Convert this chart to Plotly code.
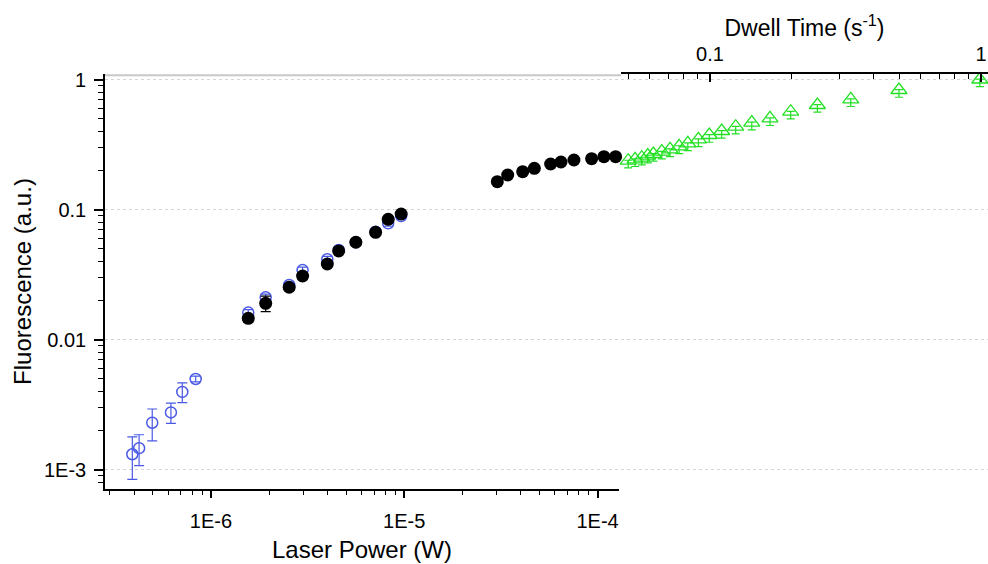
import plotly.graph_objects as go

# ---------------- data ----------------
# Blue open circles: Laser Power (W) vs Fluorescence (a.u.)
blue_power = [3.92e-7, 4.25e-7, 4.97e-7, 6.21e-7, 7.11e-7, 8.34e-7,
              1.56e-6, 1.92e-6, 2.54e-6, 2.98e-6, 4.00e-6, 4.58e-6,
              5.62e-6, 7.11e-6, 8.26e-6, 9.64e-6]
blue_fluor = [1.31e-3, 1.46e-3, 2.29e-3, 2.75e-3, 3.95e-3, 4.97e-3,
              0.0161, 0.0211, 0.0263, 0.0342, 0.0414, 0.0488,
              0.0560, 0.0675, 0.0783, 0.0891]
blue_err = [4.7e-4, 3.9e-4, 6.3e-4, 4.9e-4, 6.8e-4, 2.5e-4,
            0.0009, 0.0012, 0.0014, 0.0018, 0.0022, 0.0025,
            0.0030, 0.0035, 0.0040, 0.0045]

# Black filled circles: Laser Power (W) vs Fluorescence (a.u.)
black_power = [1.56e-6, 1.92e-6, 2.54e-6, 2.98e-6, 4.00e-6, 4.58e-6,
               5.62e-6, 7.11e-6, 8.26e-6, 9.64e-6,
               3.03e-5, 3.43e-5, 4.10e-5, 4.71e-5, 5.72e-5, 6.47e-5,
               7.55e-5, 9.32e-5, 1.079e-4, 1.24e-4]
black_fluor = [0.01456, 0.01897, 0.02523, 0.03078, 0.0381, 0.0480,
               0.0560, 0.0668, 0.0841, 0.0923,
               0.1637, 0.1842, 0.1953, 0.2074, 0.2239, 0.2319,
               0.2403, 0.2459, 0.2548, 0.2548]
black_err = [0.0010, 0.0026, 0.0015, 0.0018, 0.0022, 0.0025,
             0.0028, 0.0033, 0.0040, 0.0045,
             0.006, 0.006, 0.006, 0.006, 0.007, 0.007,
             0.007, 0.007, 0.008, 0.008]

# Green open triangles: Dwell Time (s^-1) vs Fluorescence (a.u.)
dwell_time = [0.0499, 0.0529, 0.0560, 0.0589, 0.0618, 0.0664, 0.0712,
              0.0769, 0.0828, 0.0906, 0.0994, 0.1104, 0.1244, 0.1426,
              0.1665, 0.1985, 0.249, 0.3306, 0.498, 0.99]
green_fluor = [0.2373, 0.2432, 0.2503, 0.2594, 0.2673, 0.2784, 0.2904,
               0.3063, 0.3230, 0.3467, 0.3742, 0.4016, 0.4334, 0.4653,
               0.5029, 0.5653, 0.6366, 0.7040, 0.8302, 1.0]
green_err_hi = [0.002, 0.002, 0.002, 0.002, 0.002, 0.002, 0.002,
                0.003, 0.003, 0.003, 0.003, 0.003, 0.003, 0.004,
                0.004, 0.004, 0.005, 0.005, 0.006, 0.007]
green_err_lo = [0.028, 0.029, 0.030, 0.031, 0.032, 0.033, 0.035,
                0.037, 0.039, 0.042, 0.045, 0.048, 0.052, 0.056,
                0.060, 0.068, 0.076, 0.084, 0.100, 0.120]

# tick labels
power_ticks = [1e-6, 1e-5, 1e-4]
power_labels = ["1E-6", "1E-5", "1E-4"]
dwell_ticks = [0.1, 1]
dwell_labels = ["0.1", "1"]
fluor_ticks = [1e-3, 1e-2, 1e-1, 1]
fluor_labels = ["1E-3", "0.01", "0.1", "1"]

# minor tick positions (2..9 within each decade)
def minor_vals(decades):
    return [m * d for d in decades for m in range(2, 10)]

power_minor = [v for v in minor_vals([1e-7, 1e-6, 1e-5, 1e-4]) if 2.8e-7 < v < 1.2e-4]
dwell_minor = [v for v in minor_vals([0.01, 0.1]) if 0.047 < v < 1.06]
fluor_minor = [v for v in minor_vals([1e-4, 1e-3, 1e-2, 1e-1]) if 7.0e-4 < v < 1.1]

BLUE = "#4a5ae6"
GREEN = "#22e022"
FONT = "Liberation Sans, Arial, Helvetica, sans-serif"

fig = go.Figure()

fig.add_trace(go.Scatter(
    x=blue_power, y=blue_fluor, mode="markers", xaxis="x", yaxis="y",
    marker=dict(symbol="circle-open", size=11, color=BLUE, line=dict(width=1.5, color=BLUE)),
    error_y=dict(type="data", array=blue_err, color=BLUE, thickness=1.2, width=5),
    cliponaxis=False, showlegend=False, name="Fluorescence (power, set 1)"))

fig.add_trace(go.Scatter(
    x=black_power, y=black_fluor, mode="markers", xaxis="x", yaxis="y",
    marker=dict(symbol="circle", size=13, color="black", line=dict(width=0)),
    error_y=dict(type="data", array=black_err, color="black", thickness=1.2, width=5),
    cliponaxis=False, showlegend=False, name="Fluorescence (power, set 2)"))

fig.add_trace(go.Scatter(
    x=dwell_time, y=green_fluor, mode="markers", xaxis="x2", yaxis="y",
    marker=dict(symbol="triangle-up-open", size=14, color=GREEN, line=dict(width=1.3, color=GREEN)),
    error_y=dict(type="data", symmetric=False, array=green_err_hi, arrayminus=green_err_lo,
                 color=GREEN, thickness=1.2, width=4),
    cliponaxis=False, showlegend=False, name="Fluorescence (dwell time)"))

common_axis = dict(showline=True, linecolor="black", linewidth=1.6, zeroline=False,
                   tickcolor="black", tickwidth=1.5, tickfont=dict(size=20, color="black"))

fig.update_layout(
    width=988, height=564,
    margin=dict(l=105, r=0, t=74, b=75),
    paper_bgcolor="white", plot_bgcolor="white",
    showlegend=False,
    font=dict(family=FONT, color="black"),
    xaxis=dict(
        type="log", domain=[0, 0.5821], range=[-6.548, -3.889], anchor="y",
        showgrid=False, ticks="outside", ticklen=7,
        tickmode="array", tickvals=power_ticks, ticktext=power_labels,
        ticklabelstandoff=6,
        minor=dict(tickmode="array", tickvals=power_minor, ticks="outside", ticklen=4,
                   tickwidth=1.2, tickcolor="black", showgrid=False),
        title=dict(text="Laser Power (W)", font=dict(size=24, color="black"), standoff=10),
        **common_axis),
    xaxis2=dict(
        type="log", domain=[0.5844, 1], range=[-1.3284, 0.0258], anchor="y", side="top",
        showgrid=False, ticks="inside", ticklen=8,
        tickmode="array", tickvals=dwell_ticks, ticktext=dwell_labels,
        ticklabelstandoff=3,
        minor=dict(tickmode="array", tickvals=dwell_minor, ticks="inside", ticklen=5,
                   tickwidth=1.2, tickcolor="black", showgrid=False),
        title=dict(text="Dwell Time (s<sup>-1</sup>)", font=dict(size=23, color="black"), standoff=0),
        **common_axis),
    yaxis=dict(
        type="log", domain=[0, 1], range=[-3.15, 0.0423], anchor="x",
        showgrid=True, gridcolor="#d4d4d4", griddash="dot", gridwidth=1,
        ticks="outside", ticklen=9,
        tickmode="array", tickvals=fluor_ticks, ticktext=fluor_labels,
        ticklabelstandoff=4,
        minor=dict(tickmode="array", tickvals=fluor_minor, ticks="outside", ticklen=5,
                   tickwidth=1.2, tickcolor="black", showgrid=False),
        title=dict(text="Fluorescence (a.u.)", font=dict(size=24, color="black"), standoff=6),
        **common_axis),
    shapes=[dict(type="line", xref="paper", yref="paper", x0=0, x1=0.5844, y0=0.997, y1=0.997,
                 line=dict(color="#c8c8c8", width=2), layer="below")],
)

fig.write_html("out.html")
